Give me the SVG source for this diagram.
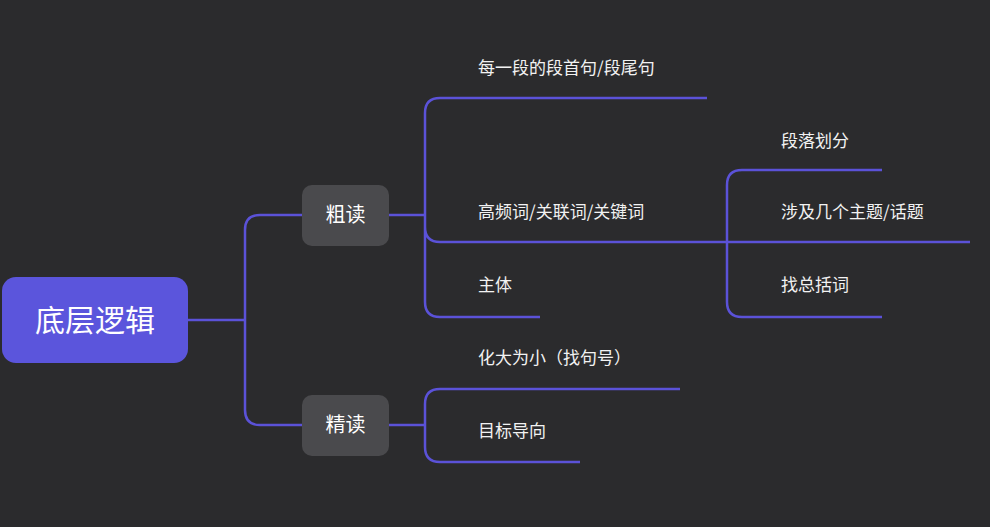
<svg xmlns="http://www.w3.org/2000/svg" width="990" height="527" viewBox="0 0 990 527">
<style>
.c{fill:none;stroke:#5b52d8;stroke-width:2.5}
.t{font-family:"Noto Sans CJK SC",sans-serif;font-size:17px;fill:#f2f2f2}
.n{fill:#4a4a4d}
.nt{font-family:"Noto Sans CJK SC",sans-serif;font-size:20px;fill:#ffffff;text-anchor:middle}
</style>
<rect width="990" height="527" fill="#2b2b2d"/>
<g id="connectors">
<path class="c" d="M188 320H245M303 215H260Q245 215 245 230V410Q245 425 260 425H303"/>
<path class="c" d="M389 215H425M707 98H440Q425 98 425 113V302Q425 317 440 317H540M425 227Q425 242 440 242H970"/>
<path class="c" d="M882 170H742Q727 170 727 185V302Q727 317 742 317H882M727 230V242"/>
<path class="c" d="M389 425H425M680 389H440Q425 389 425 404V447Q425 462 440 462H580"/>
</g>
<g id="root"><rect x="2" y="277" width="186" height="86" rx="14" fill="#5b55dc"/><text x="95" y="331" class="nt" style="font-size:30px">底层逻辑</text></g>
<g id="cudu"><rect class="n" x="302" y="185" width="87" height="61" rx="10"/><text x="345.5" y="222" class="nt">粗读</text></g>
<g id="jingdu"><rect class="n" x="302" y="395" width="87" height="61" rx="10"/><text x="345.5" y="432" class="nt">精读</text></g>
<g id="l1"><text class="t" x="478" y="74">每一段的段首句/段尾句</text></g>
<g id="l2"><text class="t" x="478" y="218">高频词/关联词/关键词</text></g>
<g id="l3"><text class="t" x="478" y="291">主体</text></g>
<g id="l4"><text class="t" x="478" y="364">化大为小（找句号）</text></g>
<g id="l5"><text class="t" x="478" y="437">目标导向</text></g>
<g id="s1"><text class="t" x="781" y="147">段落划分</text></g>
<g id="s2"><text class="t" x="781" y="218">涉及几个主题/话题</text></g>
<g id="s3"><text class="t" x="781" y="291">找总括词</text></g>
</svg>
